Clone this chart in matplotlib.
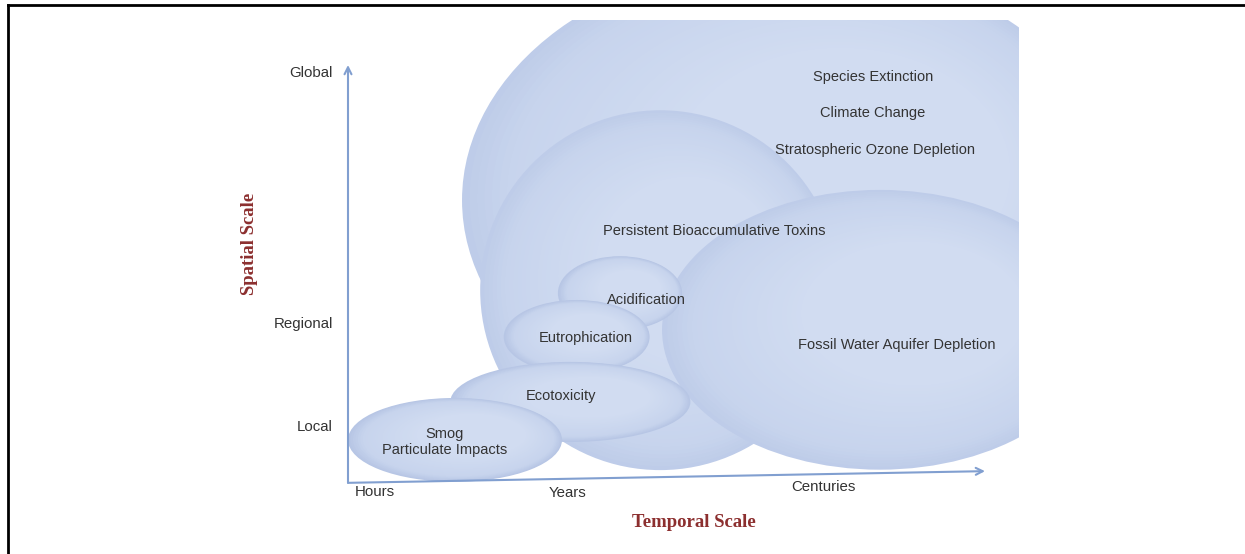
import numpy as np
import matplotlib
matplotlib.use("Agg")
import matplotlib.pyplot as plt
from matplotlib.patches import Ellipse, Rectangle
from matplotlib.colors import to_rgb

# impact bubbles in (temporal, spatial) scale units: 0..100 along each arrow
impacts = ["Global", "Persistent Bioaccumulative Toxins", "Fossil Water Aquifer Depletion",
           "Acidification", "Eutrophication", "Ecotoxicity", "Smog"]
center_t = [69.4, 49.0, 83.5, 42.7, 35.9, 34.9, 16.8]
center_s = [67.6, 46.0, 36.5, 45.3, 34.8, 19.2, 10.1]
extent_t = [103.0, 56.5, 68.4, 19.5, 22.9, 37.7, 33.6]
extent_s = [115.6, 86.3, 67.1, 17.7, 17.7, 19.2, 20.1]

# labels placed inside the bubbles
label_text = ["Species Extinction", "Climate Change", "Stratospheric Ozone Depletion",
              "Persistent Bioaccumulative Toxins", "Acidification", "Eutrophication",
              "Fossil Water Aquifer Depletion", "Ecotoxicity", "Smog\nParticulate Impacts"]
label_t = [82.4, 82.4, 82.7, 57.5, 46.9, 37.4, 86.2, 33.4, 15.2]
label_s = [97.1, 88.5, 79.6, 60.2, 43.6, 34.5, 32.9, 20.6, 9.6]

spatial_ticks = ["Global", "Regional", "Local"]
spatial_pos = [98.0, 37.9, 13.2]
temporal_ticks = ["Hours", "Years", "Centuries"]
temporal_pos = [1.1, 34.5, 74.6]

W, H = 1245, 554
# pixel location of the arrow origin and pixels per unit
ox, oy, kx, ky = 348, 482, 6.37, 4.17

fig = plt.figure(figsize=(W / 100, H / 100), dpi=100)
ax = fig.add_axes([0, 0, 1, 1])
ax.set_xlim(-ox / kx, (W - ox) / kx)
ax.set_ylim(-(H - oy) / ky, oy / ky)
ax.axis("off")

# bubbles are cut off at the right and top
clip = Rectangle((-60, -20), 60 + (1019 - ox) / kx, 20 + (oy - 20) / ky,
                 transform=ax.transData, facecolor="none", edgecolor="none")
ax.add_patch(clip)

edge_c = np.array(to_rgb("#b7c6e5"))
mid_c = np.array(to_rgb("#c7d4ed"))
inner_c = np.array(to_rgb("#d1dcf1"))


def blob(cx, cy, w, h, strength, n=30):
    edge = mid_c + (edge_c - mid_c) * strength
    for k in range(n):
        f = k / (n - 1)
        s = 1.0 - 0.5 * f
        if f < 0.2:
            c = edge + (mid_c - edge) * (f / 0.2)
        else:
            c = mid_c + (inner_c - mid_c) * ((f - 0.2) / 0.8)
        e = Ellipse((cx + 0.08 * w * f, cy + 0.06 * h * f), w * s, h * s,
                    facecolor=c, edgecolor="none", zorder=1)
        ax.add_patch(e)
        e.set_clip_path(clip)


for i in range(len(impacts)):
    # the big bubbles have softer rims than the small ones
    strength = 0.55 if extent_t[i] > 50 else 1.0
    blob(center_t[i], center_s[i], extent_t[i], extent_s[i], strength)

lab_font = dict(family="Liberation Sans", fontsize=10.5, color="#333333")
for txt, t, s in zip(label_text, label_t, label_s):
    ax.text(t, s, txt, ha="center", va="center", linespacing=1.25, zorder=5, **lab_font)

# axes arrows
axis_c = "#819fd0"
for tip in [(0, 100), (100, 2.6)]:
    ax.annotate("", xy=tip, xytext=(0, -0.2),
                arrowprops=dict(arrowstyle="->,head_length=0.5,head_width=0.25",
                                color=axis_c, lw=1.5, shrinkA=0, shrinkB=0), zorder=4)

tick_font = dict(family="Liberation Sans", fontsize=10.8, color="#333333")
for txt, s in zip(spatial_ticks, spatial_pos):
    ax.text(-2.4, s, txt, ha="right", va="center", **tick_font)
ax.text(temporal_pos[0], -2.4, temporal_ticks[0], ha="left", va="center", **tick_font)
ax.text(temporal_pos[1], -2.6, temporal_ticks[1], ha="center", va="center", **tick_font)
ax.text(temporal_pos[2], -1.2, temporal_ticks[2], ha="center", va="center", **tick_font)

title_font = dict(family="Liberation Serif", fontsize=13.5, fontweight="bold", color="#8c2f2f")
ax.text(54.3, -9.8, "Temporal Scale", ha="center", va="center", **title_font)
ax.text(-15.4, 57.1, "Spatial Scale", ha="center", va="center", rotation=90, **title_font)

# frame on the top and left of the figure
fig.add_artist(plt.Line2D([8 / W, 1], [1 - 5 / H, 1 - 5 / H], color="black", lw=2))
fig.add_artist(plt.Line2D([8 / W, 8 / W], [0, 1 - 5 / H], color="black", lw=2))

fig.savefig("out.png", dpi=100)
